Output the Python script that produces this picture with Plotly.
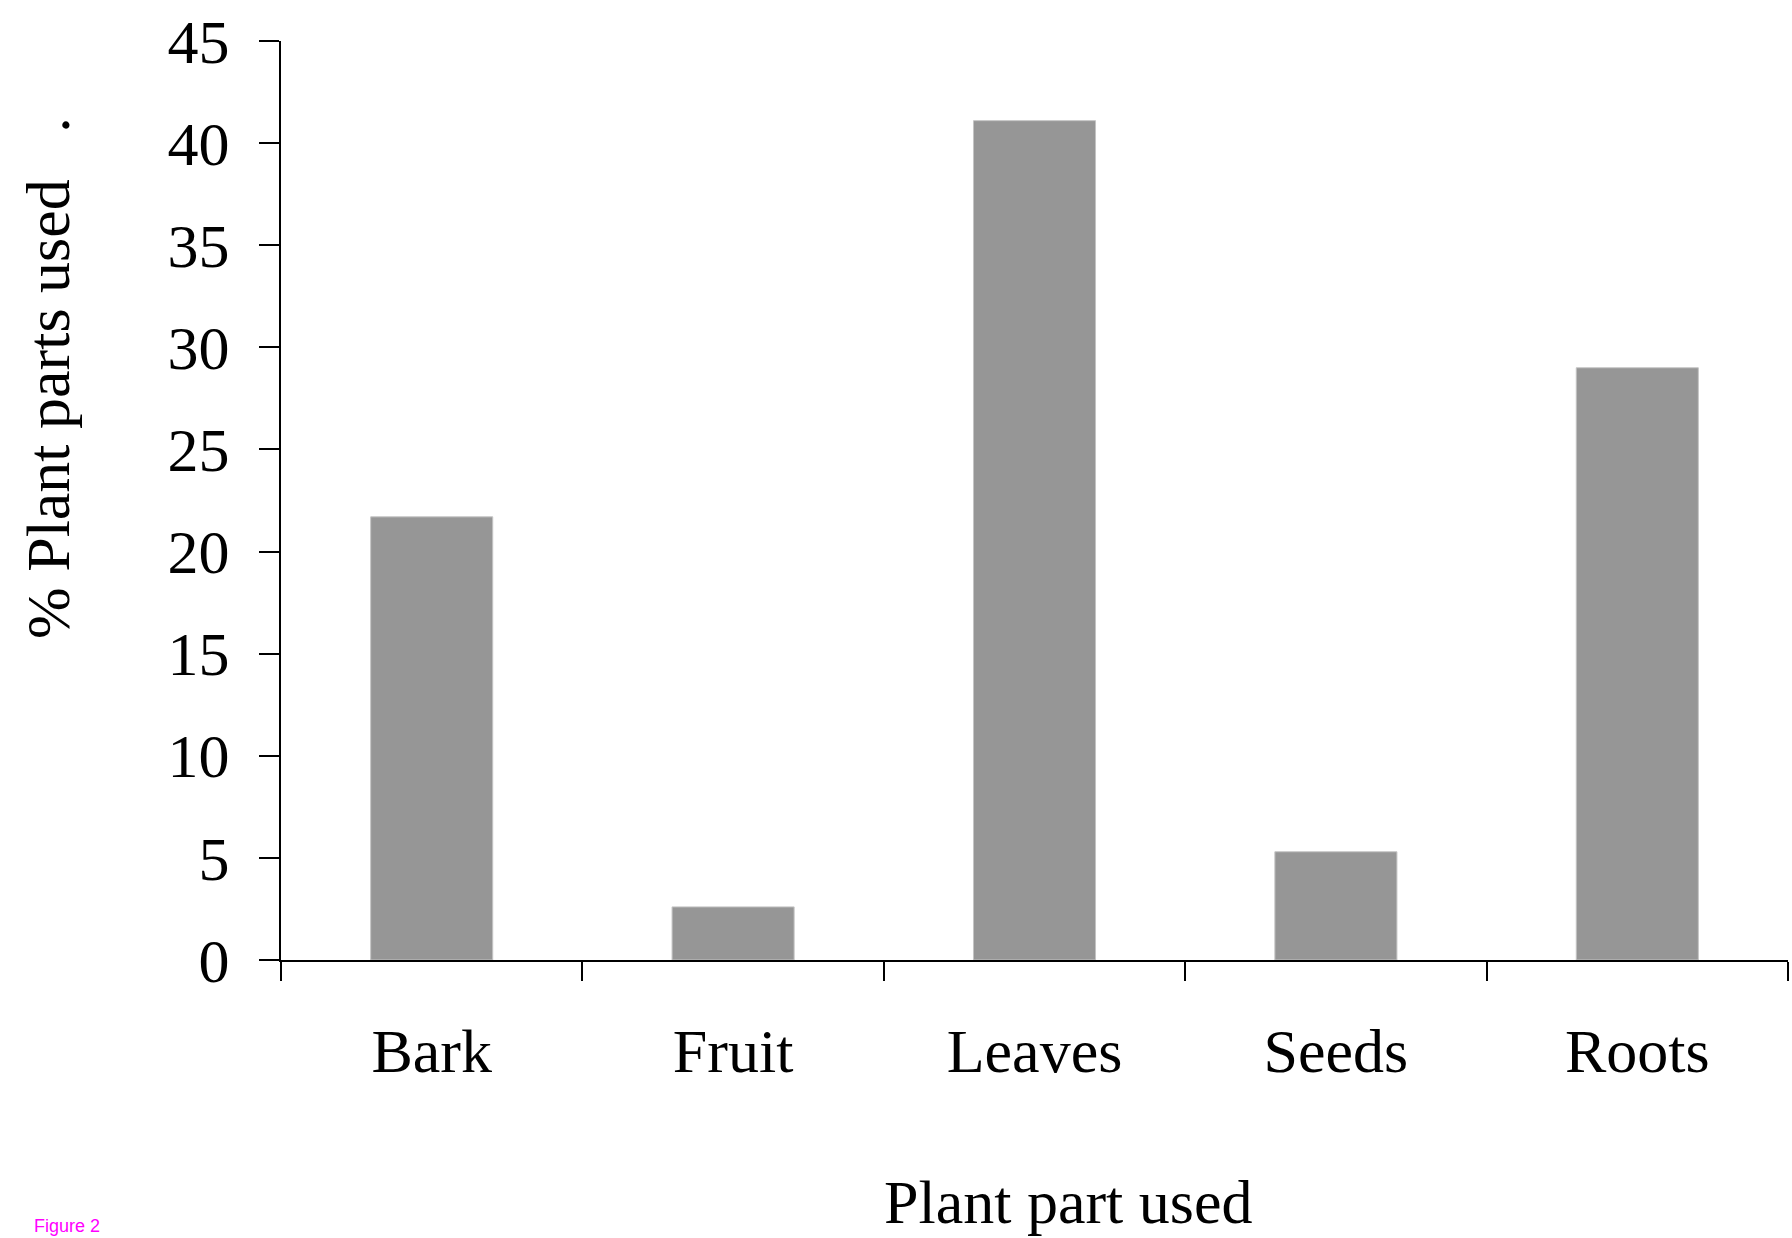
import plotly.graph_objects as go

# Share of each plant part used (%)
parts = ["Bark", "Fruit", "Leaves", "Seeds", "Roots"]
percent_used = [21.7, 2.6, 41.1, 5.3, 29.0]

y_ticks = [0, 5, 10, 15, 20, 25, 30, 35, 40, 45]

W, H = 1792, 1238
L, R, T, B = 281, 4, 41, 278
plot_w = W - L - R
plot_h = H - T - B


def px_x(px):
    return (px - L) / plot_w


def px_y(py):
    return (H - B - py) / plot_h


serif = "Liberation Serif, Times New Roman, serif"

fig = go.Figure(
    go.Bar(
        x=parts,
        y=percent_used,
        width=0.405,
        marker=dict(color="#969696", line=dict(color="#c4c4c4", width=1)),
    )
)

fig.update_layout(
    width=W,
    height=H,
    margin=dict(l=L, r=R, t=T, b=B),
    paper_bgcolor="white",
    plot_bgcolor="white",
    showlegend=False,
    font=dict(family=serif, size=62, color="black"),
)

fig.update_xaxes(
    type="category",
    showline=True,
    linecolor="black",
    linewidth=2,
    ticks="outside",
    tickson="boundaries",
    ticklen=19,
    tickwidth=2,
    tickcolor="black",
    ticklabelstandoff=36,
    showgrid=False,
    tickfont=dict(family=serif, size=62),
)

fig.update_yaxes(
    range=[0, 45],
    tickvals=y_ticks,
    showline=True,
    linecolor="black",
    linewidth=2,
    ticks="outside",
    ticklen=20,
    tickwidth=2,
    tickcolor="black",
    ticklabelstandoff=17,
    showgrid=False,
    zeroline=False,
    tickfont=dict(family=serif, size=62),
)

# Axis titles
fig.add_annotation(
    text="Plant part used",
    xref="paper", yref="paper",
    x=px_x(1068), y=px_y(1202),
    xanchor="center", yanchor="middle",
    showarrow=False,
    font=dict(family=serif, size=62, color="black"),
)
fig.add_annotation(
    text="% Plant parts used\u00a0\u00a0\u00a0.",
    xref="paper", yref="paper",
    x=px_x(48), y=px_y(378),
    xanchor="center", yanchor="middle",
    textangle=-90,
    showarrow=False,
    font=dict(family=serif, size=62, color="black"),
)

# Figure label at the bottom edge
fig.add_annotation(
    text="Figure 2",
    xref="paper", yref="paper",
    x=px_x(32), y=px_y(1214),
    xanchor="left", yanchor="top",
    showarrow=False,
    font=dict(family="Liberation Sans, Arial, sans-serif", size=18, color="#ff00ff"),
)

fig.write_html("out.html")
